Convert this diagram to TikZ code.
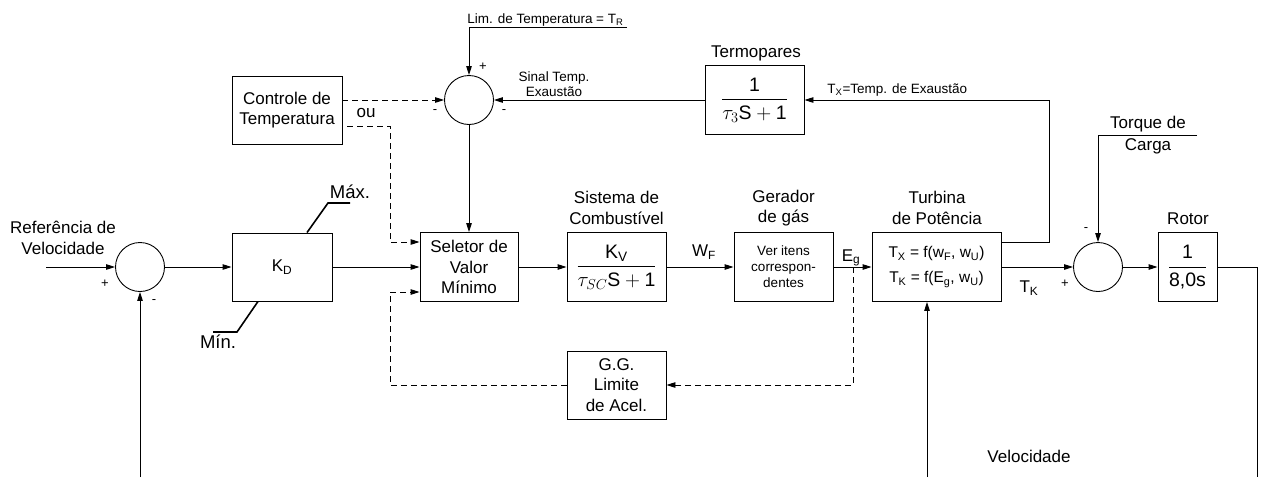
\documentclass[tikz,border=0pt]{standalone}
\usepackage{amsmath}
\usepackage{fontspec}
\setmainfont{Liberation Sans}
\usetikzlibrary{arrows.meta,positioning}
\begin{document}
\begin{tikzpicture}[x=1pt, y=-1pt, line width=0.9pt,
  every node/.style={font=\fontsize{17}{20.5}\selectfont, align=center, inner sep=0pt},
  blk/.style={draw, minimum width=99pt, minimum height=69pt},
  sum/.style={draw, circle, minimum size=49pt},
  sml/.style={font=\fontsize{13.5}{15}\selectfont},
  frc/.style={font=\fontsize{19.5}{22}\selectfont},
  sgn/.style={font=\fontsize{13}{13}\selectfont},
  lim/.style={font=\fontsize{18.5}{20}\selectfont},
  arr/.style={-{Triangle[length=9pt,width=5.5pt]}},
  dsh/.style={dash pattern=on 6pt off 4pt}]
  \useasboundingbox (0,0) rectangle (1263,477);
  % blocos
  \node[sum] (s1) at (140,267) {};
  \node[blk, minimum width=100pt, minimum height=68pt] (kd) at (282,267) {K\textsubscript{D}};
  \node[blk, minimum width=98pt] (sel) at (469,267) {Seletor de\\Valor\\Mínimo};
  \node[blk, frc] (fuel) at (616.5,267) {$\dfrac{\text{K\textsubscript{V}}}{\text{$\tau_{SC}$S}+\text{1}}$};
  \node[blk, font=\fontsize{13.5}{16}\selectfont] (gas) at (783.5,267) {Ver itens\\correspon-\\dentes};
  \node[blk, minimum width=129pt, font=\fontsize{15.5}{25}\selectfont] (turb) at (936.5,267)
    {T\textsubscript{X} = f(w\textsubscript{F}, w\textsubscript{U})\\T\textsubscript{K} = f(E\textsubscript{g}, w\textsubscript{U})};
  \node[sum] (s3) at (1098,267) {};
  \node[blk, minimum width=59pt, frc] (rot) at (1187.5,267) {$\dfrac{\text{1}}{\text{8,0s}}$};
  \node[sum] (s2) at (469,100) {};
  \node[blk, frc] (term) at (754.5,100) {$\dfrac{\text{1}}{\text{$\tau_3$S}+\text{1}}$};
  \node[blk, minimum width=110pt, minimum height=68pt] (temp) at (287,110) {Controle de\\Temperatura};
  \node[blk, minimum height=68pt] (gg) at (616.5,385) {G.G.\\Limite\\de Acel.};
  % titulos e rotulos
  \node (tfuel) at (616.5,208) {Sistema de\\Combustível};
  \node (tgas) at (783.5,208) {Gerador\\de gás};
  \node (tturb) at (937,208) {Turbina\\de Potência};
  \node (trot) at (1188,219) {Rotor};
  \node (tterm) at (756,53) {Termopares};
  \node (ref) at (63,238) {Referência de\\Velocidade};
  \node (vel) at (1029,456) {Velocidade};
  \node (torq) at (1148,135) {Torque de\\[1.5pt]Carga};
  \node (wf) at (704,252) {W\textsubscript{F}};
  \node (eg) at (851,258) {E\textsubscript{g}};
  \node (tk) at (1029,288) {T\textsubscript{K}};
  \node (ou) at (366,113) {ou};
  \node[sml, anchor=base west] (limt) at (467,23) {Lim. de Temperatura = T\textsubscript{R}};
  \node[sml] (sinal) at (554,84) {Sinal Temp.\\Exaustão};
  \node[sml, anchor=base west] (tx) at (827,93) {T\textsubscript{X}=Temp. de Exaustão};
  \node[lim] (max) at (350,192) {Máx.};
  \node[lim] (min) at (218,342) {Mín.};
  \node[sgn] (p1) at (105,284) {+};  \node[sgn] (m1) at (154,302) {-};
  \node[sgn] (p2) at (483,67) {+};   \node[sgn] (m2a) at (435,112) {-};  \node[sgn] (m2b) at (504,112) {-};
  \node[sgn] (p3) at (1065,284) {+}; \node[sgn] (m3) at (1086,230) {-};
  % pontos livres
  \coordinate (in) at (46,267);
  \coordinate (fb1) at (140,477);
  \coordinate (fb2) at (927,477);
  \coordinate (out) at (1257,477);
  \coordinate (limr) at (627,27);
  \coordinate (torqr) at (1197,135);
  \coordinate (ou2) at (347,126);
  \coordinate (dv) at (390,242);
  \coordinate (dl) at (390,292);
  \coordinate (egd) at (853,267);
  \coordinate (tcor) at (1049,242);
  \coordinate (mx1) at (328,203); \coordinate (mx2) at (350,203);
  \coordinate (mn1) at (237,332); \coordinate (mn2) at (213,332);
  % ligacoes
  \draw[arr] (in) -- (s1);
  \draw[arr] (s1) -- (kd);
  \draw[arr] (kd) -- (sel);
  \draw[arr] (sel) -- (fuel);
  \draw[arr] (fuel) -- (gas);
  \draw[arr] (gas) -- (turb);
  \draw[arr] (turb) -- (s3);
  \draw[arr] (s3) -- (rot);
  \draw (rot) -- (rot.east -| out) -- (out);
  \draw[arr] (fb1) -- (s1);
  \draw[arr] (fb2) -- (fb2 |- turb.south);
  \draw[arr] (s2) -- (sel);
  \draw[arr] (term) -- (s2);
  \draw[arr] (turb.east |- tcor) -- (tcor) -- (tcor |- term) -- (term);
  \draw[arr] (limr) -- (limr -| s2) -- (s2);
  \draw[arr] (torqr) -- (torqr -| s3) -- (s3);
  \draw[dsh, arr] (temp.east |- s2) -- (s2);
  \draw[dsh, arr] (ou2) -- (ou2 -| dv) -- (dv) -- (dv -| sel.west);
  \draw[dsh, arr] (egd) -- (egd |- gg) -- (gg);
  \draw[dsh, arr] (gg) -- (gg -| dl) -- (dl) -- (dl -| sel.west);
  \draw[line width=1.6pt] ([xshift=25]kd.north) -- (mx1) -- (mx2);
  \draw[line width=1.6pt] ([xshift=-24]kd.south) -- (mn1) -- (mn2);
\end{tikzpicture}
\end{document}
